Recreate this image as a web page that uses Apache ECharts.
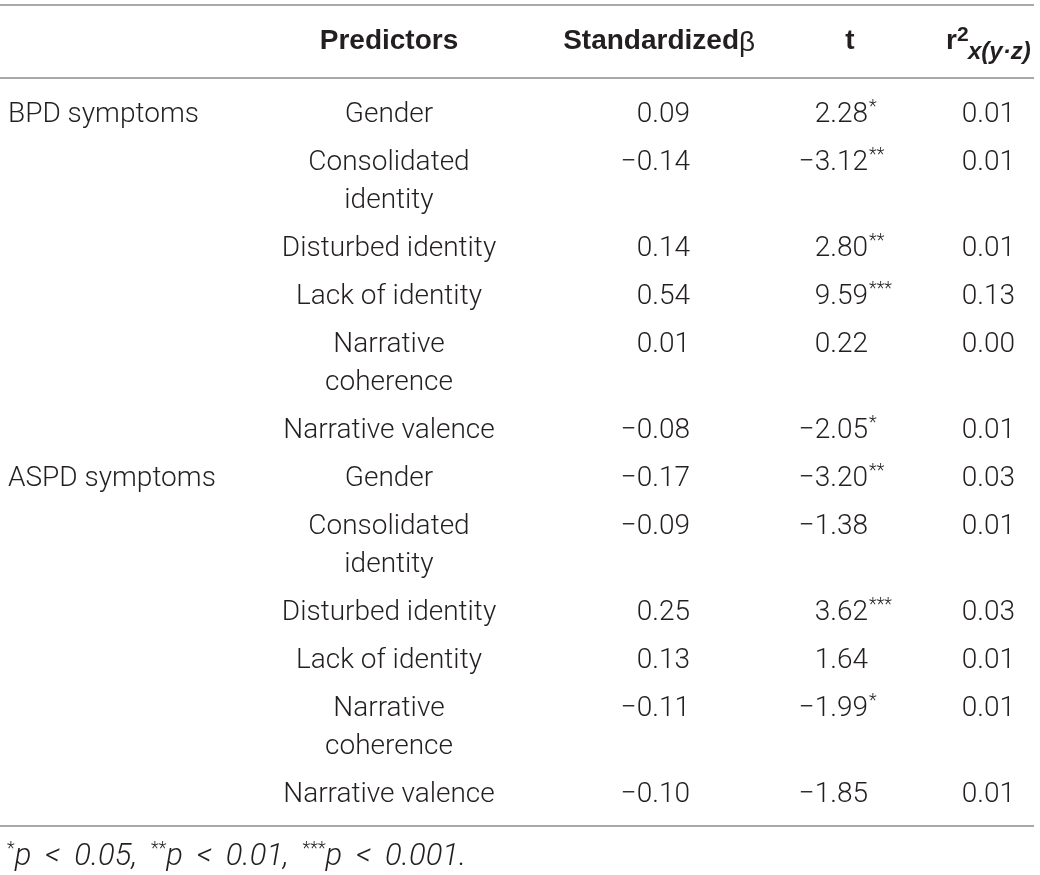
<!DOCTYPE html>
<html lang="en">
<head>
    <meta charset="UTF-8">
    <title>Predictors table</title>
    <script src="https://cdn.jsdelivr.net/npm/echarts@6.0.0/dist/echarts.min.js"></script>
    <style>
        body { margin: 0; background: #fff; }
        #main { width: 1040px; height: 875px; }
    </style>
</head>
<body>
<div id="main"></div>
<script type="text/javascript">
    // table data
    var outcomes = ['BPD symptoms', 'ASPD symptoms'];
    var predictors = ['Gender', 'Consolidated\nidentity', 'Disturbed identity', 'Lack of identity', 'Narrative\ncoherence', 'Narrative valence'];
    var betaBPD = [0.09, -0.14, 0.14, 0.54, 0.01, -0.08];
    var tBPD = [2.28, -3.12, 2.80, 9.59, 0.22, -2.05];
    var sigBPD = ['*', '**', '**', '***', '', '*'];
    var r2BPD = [0.01, 0.01, 0.01, 0.13, 0.00, 0.01];
    var betaASPD = [-0.17, -0.09, 0.25, 0.13, -0.11, -0.10];
    var tASPD = [-3.20, -1.38, 3.62, 1.64, -1.99, -1.85];
    var sigASPD = ['**', '', '***', '', '*', ''];
    var r2ASPD = [0.03, 0.01, 0.03, 0.01, 0.01, 0.01];
    var headers = ['Predictors', 'Standardized', 't'];
    var pLevels = ['0.05', '0.01', '0.001'];

    // layout
    var FONT = 'Roboto';
    var HFONT = 'Liberation Sans';
    var COLOR = '#231f20';
    var RULE = '#a7a9ac';
    var SIZE = 28, NOTE_SIZE = 31;
    var HEAD_Y = 41, HEAD_RULE = 78, ROW_H = 48, LINE_H = 38, FIRST = 36.5;
    var X_OUT = 8, X_PRED = 389, X_BETA = 690, X_T = 868, X_R2 = 1015, X_END = 1034;

    function fmt(v) {
        return (v < 0 ? '\u2212' : '') + Math.abs(v).toFixed(2);
    }

    // build rows, row tops come from number of text lines
    var groups = [
        {beta: betaBPD, t: tBPD, sig: sigBPD, r2: r2BPD},
        {beta: betaASPD, t: tASPD, sig: sigASPD, r2: r2ASPD}
    ];
    var rows = [];
    var rowTop = HEAD_RULE;
    groups.forEach(function (g, gi) {
        predictors.forEach(function (p, j) {
            var lines = p.split('\n');
            rows.push({
                outcome: j === 0 ? outcomes[gi] : '',
                lines: lines,
                beta: fmt(g.beta[j]),
                t: fmt(g.t[j]),
                sig: g.sig[j],
                r2: fmt(g.r2[j]),
                top: rowTop
            });
            rowTop += ROW_H + (lines.length - 1) * LINE_H;
        });
    });
    var tableEnd = rowTop + 20;

    var ctx = document.createElement('canvas').getContext('2d');
    function measure(s, font) {
        ctx.font = font;
        return ctx.measureText(s).width;
    }

    function txt(x, y, s, align, extra) {
        var style = {
            text: s, x: x, y: y, align: align, verticalAlign: 'middle',
            fill: COLOR, fontFamily: FONT, fontWeight: 300, fontSize: SIZE
        };
        for (var k in extra) style[k] = extra[k];
        return {type: 'text', style: style};
    }

    function renderRow(params, api) {
        var r = rows[api.value(0)];
        var y0 = api.coord([0, api.value(1) + FIRST])[1];
        var cx = function (x) { return api.coord([x, 0])[0]; };
        var kids = [];
        if (r.outcome) kids.push(txt(cx(X_OUT), y0, r.outcome, 'left'));
        r.lines.forEach(function (l, k) {
            kids.push(txt(cx(X_PRED), y0 + k * LINE_H, l, 'center'));
        });
        kids.push(txt(cx(X_BETA), y0, r.beta, 'right'));
        kids.push(txt(cx(X_T), y0, r.t, 'right'));
        if (r.sig) kids.push(txt(cx(X_T) + 1, y0 - 7, r.sig, 'left', {fontSize: 18}));
        kids.push(txt(cx(X_R2), y0, r.r2, 'right'));
        return {type: 'group', children: kids};
    }

    function renderFrame(params, api) {
        var x0 = api.coord([0, 0])[0], x1 = api.coord([X_END, 0])[0];
        var line = function (y) {
            var yy = api.coord([0, y])[1];
            return {type: 'line', shape: {x1: x0, y1: yy, x2: x1, y2: yy},
                style: {stroke: RULE, lineWidth: 2}};
        };
        var hy = api.coord([0, HEAD_Y])[1];
        var hstyle = {fontFamily: HFONT, fontWeight: 'bold'};
        var ny = api.coord([0, tableEnd + 31])[1];

        var kids = [line(5), line(HEAD_RULE), line(tableEnd),
            txt(X_PRED, hy, headers[0], 'center', hstyle),
            txt(739, hy, headers[1], 'right', hstyle),
            txt(739, hy + 2, '\u03b2', 'left', {fontFamily: HFONT}),
            txt(850, hy, headers[2], 'center', hstyle),
            txt(946, hy, 'r', 'left', hstyle),
            txt(957, hy - 6, '2', 'left', {fontFamily: HFONT, fontWeight: 'bold', fontSize: 21}),
            txt(968, hy + 11, 'x(y\u00b7z)', 'left', {fontFamily: HFONT, fontWeight: 'bold', fontStyle: 'italic', fontSize: 24})
        ];

        // footnote: superscript stars then italic p-values
        var fx = 7;
        var sp = ' \u2009';
        pLevels.forEach(function (p, i) {
            var stars = new Array(i + 2).join('*');
            var body = 'p' + sp + '<' + sp + p + (i < pLevels.length - 1 ? ',' + sp : '.');
            kids.push(txt(fx, ny - 8, stars, 'left', {fontSize: 18}));
            var w1 = measure(stars, '300 18px ' + FONT);
            kids.push(txt(fx + w1, ny, body, 'left', {fontStyle: 'italic', fontSize: NOTE_SIZE}));
            fx += w1 + measure(body, 'italic 300 ' + NOTE_SIZE + 'px ' + FONT);
        });
        return {type: 'group', children: kids};
    }

    var chart = echarts.init(document.getElementById('main'));
    chart.setOption({
        animation: false,
        grid: {left: 0, right: 0, top: 0, bottom: 0},
        xAxis: {type: 'value', min: 0, max: 1040, show: false},
        yAxis: {type: 'value', min: 0, max: 875, inverse: true, show: false},
        series: [
            {
                type: 'custom',
                renderItem: renderFrame,
                data: [[0, 0]],
                silent: true
            },
            {
                type: 'custom',
                renderItem: renderRow,
                encode: {x: 0, y: 1},
                data: rows.map(function (r, i) { return [i, r.top]; }),
                silent: true
            }
        ]
    });
</script>
</body>
</html>
